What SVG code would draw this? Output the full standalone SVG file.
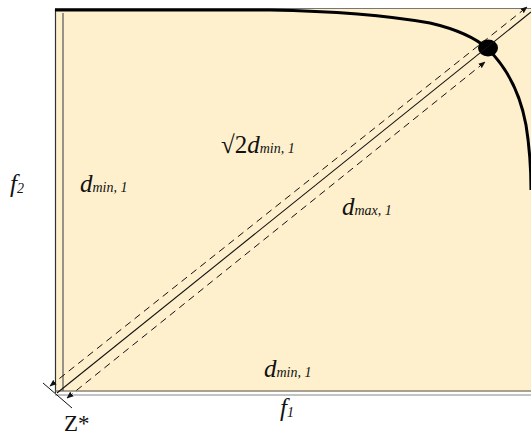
<svg xmlns="http://www.w3.org/2000/svg" width="531" height="436" viewBox="0 0 531 436">
<style>
.lbl{font-family:"Liberation Serif","DejaVu Serif",serif;font-style:italic;fill:#111;}
.big{font-size:25px;}
.sub{font-size:14px;}
.dash{stroke:#111;stroke-width:1;stroke-dasharray:7,5;fill:none;}
</style>
<defs>
<marker id="ah" viewBox="0 0 10 10" refX="9" refY="5" markerWidth="7" markerHeight="7" orient="auto-start-reverse" markerUnits="userSpaceOnUse">
<path d="M0,1 L10,5 L0,9 Z" fill="#111"/>
</marker>
</defs>
<g id="plot">
<rect x="55" y="9" width="480" height="383" fill="#FEF0CD"/>
<line x1="55" y1="8.5" x2="531" y2="8.5" stroke="#777" stroke-width="1"/>
<line x1="55.5" y1="9" x2="55.5" y2="393" stroke="#333" stroke-width="1.2"/>
<line x1="63" y1="13" x2="63" y2="391" stroke="#555" stroke-width="1.2"/>
<line x1="55" y1="391" x2="531" y2="391" stroke="#555" stroke-width="1.2"/>
<line x1="55" y1="395" x2="531" y2="395" stroke="#888" stroke-width="1.2"/>
</g>
<g id="front">
<path d="M55,10 L270,10 C330,11 390,16 430,23 C460,30 478,40 488,49 C505,66 520,92 526,125 C530,150 531,175 531,190" fill="none" stroke="#000" stroke-width="3"/>
<ellipse cx="488" cy="48" rx="10" ry="8.5" fill="#000"/>
</g>
<g id="connectors">
<line x1="57" y1="393" x2="531" y2="12" stroke="#111" stroke-width="1.1"/>
<line class="dash" x1="50" y1="386" x2="527" y2="7" marker-start="url(#ah)" marker-end="url(#ah)"/>
<line class="dash" x1="67" y1="398" x2="485" y2="62" marker-start="url(#ah)" marker-end="url(#ah)"/>
<line x1="43" y1="383" x2="72" y2="408" stroke="#111" stroke-width="1"/>
</g>
<g id="labels">
<text class="lbl" x="10" y="192"><tspan class="big">f</tspan><tspan class="sub" dy="1">2</tspan></text>
<text class="lbl" x="80" y="192"><tspan class="big">d</tspan><tspan class="sub">min, 1</tspan></text>
<text class="lbl" x="221" y="153"><tspan class="big" style="font-style:normal">√2</tspan><tspan class="big">d</tspan><tspan class="sub">min, 1</tspan></text>
<text class="lbl" x="342" y="215"><tspan class="big">d</tspan><tspan class="sub">max, 1</tspan></text>
<text class="lbl" x="264" y="377"><tspan class="big">d</tspan><tspan class="sub">min, 1</tspan></text>
<text class="lbl" x="280" y="416"><tspan class="big">f</tspan><tspan class="sub" dy="1">1</tspan></text>
<text class="lbl" x="64" y="431" style="font-style:normal;font-size:23px">Z*</text>
</g>
</svg>
